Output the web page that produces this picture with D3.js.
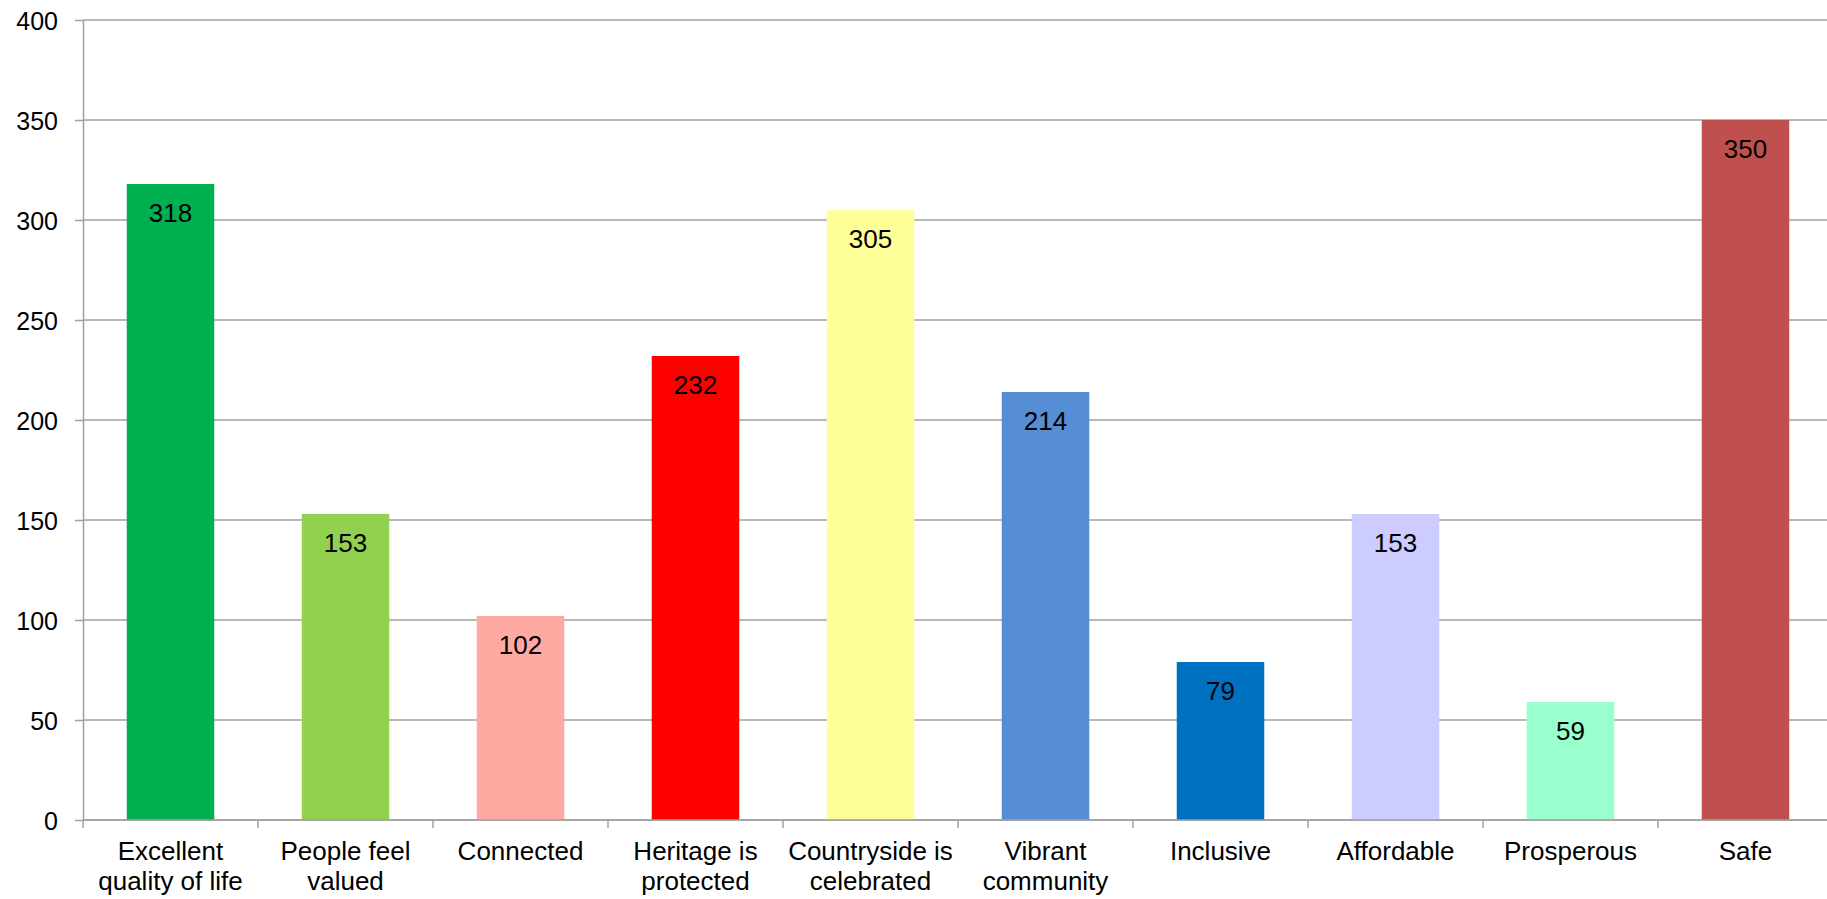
<!DOCTYPE html>
<html>
<head>
<meta charset="utf-8">
<script src="https://cdn.jsdelivr.net/npm/d3@7"></script>
<style>
    body { margin: 0; background: #ffffff; }
    text { font-family: "Liberation Sans", Arial, sans-serif; fill: #000000; }
    .tick-label { font-size: 25px; }
    .bar-label { font-size: 26px; }
    .cat-label { font-size: 26px; }
</style>
</head>
<body>
<div id="chart"></div>
<script>
// Categories, values and bar colours.
const categories = [
    "Excellent\nquality of life",
    "People feel\nvalued",
    "Connected",
    "Heritage is\nprotected",
    "Countryside is\ncelebrated",
    "Vibrant\ncommunity",
    "Inclusive",
    "Affordable",
    "Prosperous",
    "Safe"
];
const values = [318, 153, 102, 232, 305, 214, 79, 153, 59, 350];
const barColors = [
    "#00B050", "#92D050", "#FFA9A3", "#FF0000", "#FFFF99",
    "#558ED5", "#0070C0", "#CCCCFF", "#99FFCC", "#C0504D"
];
const yTicks = [0, 50, 100, 150, 200, 250, 300, 350, 400];

// Size of the SVG and the plot area.
const width = 1827;
const height = 899;
const margin = { top: 20, left: 83, bottom: 79 };
const plotWidth = 1750;
const gridColor = "#A0A0A0";

const svg = d3.select("#chart")
    .append("svg")
    .attr("width", width)
    .attr("height", height);

const xScale = d3.scaleBand()
    .domain(categories)
    .range([margin.left, margin.left + plotWidth])
    .paddingInner(0.5)
    .paddingOuter(0.25);

const yScale = d3.scaleLinear()
    .domain([0, 400])
    .range([height - margin.bottom, margin.top]);

// Horizontal gridlines.
svg.append("g")
    .selectAll("line")
    .data(yTicks)
    .join("line")
    .attr("x1", margin.left)
    .attr("x2", margin.left + plotWidth)
    .attr("y1", d => yScale(d))
    .attr("y2", d => yScale(d))
    .attr("stroke", gridColor)
    .attr("stroke-width", 1.5);

// Bars.
svg.append("g")
    .selectAll("rect")
    .data(values)
    .join("rect")
    .attr("x", (d, i) => xScale(categories[i]))
    .attr("y", d => yScale(d))
    .attr("width", xScale.bandwidth())
    .attr("height", d => yScale(0) - yScale(d))
    .attr("fill", (d, i) => barColors[i]);

// Value labels inside the top of each bar.
svg.append("g")
    .selectAll("text")
    .data(values)
    .join("text")
    .attr("class", "bar-label")
    .attr("x", (d, i) => xScale(categories[i]) + xScale.bandwidth() / 2)
    .attr("y", d => yScale(d) + 38)
    .attr("text-anchor", "middle")
    .text(d => d);

// Y axis.
const yAxis = svg.append("g")
    .attr("transform", `translate(${margin.left}, 0)`)
    .call(d3.axisLeft(yScale).tickValues(yTicks).tickSize(8).tickSizeOuter(0));
yAxis.select(".domain").attr("stroke", gridColor).attr("stroke-width", 1.5);
yAxis.selectAll(".tick line").attr("stroke", gridColor).attr("stroke-width", 1.5);
yAxis.selectAll(".tick text")
    .attr("class", "tick-label")
    .attr("x", -25)
    .attr("dy", "0.36em")
    .attr("font-size", null)
    .attr("font-family", null);

// X axis with ticks at category boundaries.
const xAxisY = yScale(0);
svg.append("line")
    .attr("x1", margin.left)
    .attr("x2", margin.left + plotWidth)
    .attr("y1", xAxisY)
    .attr("y2", xAxisY)
    .attr("stroke", gridColor)
    .attr("stroke-width", 1.5);

svg.append("g")
    .selectAll("line")
    .data(d3.range(categories.length + 1))
    .join("line")
    .attr("x1", i => margin.left + i * xScale.step())
    .attr("x2", i => margin.left + i * xScale.step())
    .attr("y1", xAxisY)
    .attr("y2", xAxisY + 8)
    .attr("stroke", gridColor)
    .attr("stroke-width", 1.5);

// Category labels, split over two lines where needed.
const catLabels = svg.append("g")
    .selectAll("text")
    .data(categories)
    .join("text")
    .attr("class", "cat-label")
    .attr("x", d => xScale(d) + xScale.bandwidth() / 2)
    .attr("y", xAxisY + 40)
    .attr("text-anchor", "middle");

catLabels.selectAll("tspan")
    .data(d => d.split("\n"))
    .join("tspan")
    .attr("x", function() { return this.parentNode.getAttribute("x"); })
    .attr("dy", (d, i) => i === 0 ? 0 : 30)
    .text(d => d);
</script>
</body>
</html>
